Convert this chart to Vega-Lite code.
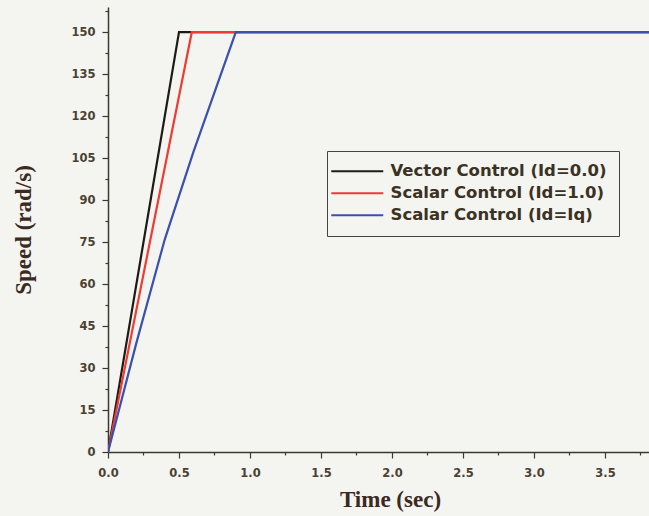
{
  "$schema": "https://vega.github.io/schema/vega-lite/v6.json",
  "width": 541,
  "height": 445,
  "autosize": {"type": "none"},
  "padding": {"left": 108, "top": 7, "right": 0, "bottom": 64},
  "background": "#f4f4f1",
  "config": {"view": {"stroke": null}},
  "data": {
    "values": [
      {"series": "Vector Control (Id=0.0)", "t": 0, "speed": 0},
      {"series": "Vector Control (Id=0.0)", "t": 0.5, "speed": 150},
      {"series": "Vector Control (Id=0.0)", "t": 3.85, "speed": 150},
      {"series": "Scalar Control (Id=1.0)", "t": 0, "speed": 0},
      {"series": "Scalar Control (Id=1.0)", "t": 0.59, "speed": 150},
      {"series": "Scalar Control (Id=1.0)", "t": 3.85, "speed": 150},
      {"series": "Scalar Control (Id=Iq)", "t": 0, "speed": 0},
      {"series": "Scalar Control (Id=Iq)", "t": 0.2, "speed": 39},
      {"series": "Scalar Control (Id=Iq)", "t": 0.4, "speed": 76},
      {"series": "Scalar Control (Id=Iq)", "t": 0.6, "speed": 107},
      {"series": "Scalar Control (Id=Iq)", "t": 0.9, "speed": 150},
      {"series": "Scalar Control (Id=Iq)", "t": 3.85, "speed": 150}
    ]
  },
  "mark": {"type": "line", "strokeWidth": 2.2, "clip": true},
  "encoding": {
    "x": {
      "field": "t",
      "type": "quantitative",
      "scale": {"domain": [0, 3.81], "nice": false, "zero": false},
      "axis": {
        "title": "Time (sec)",
        "titleX": 282,
        "values": [0, 0.25, 0.5, 0.75, 1, 1.25, 1.5, 1.75, 2, 2.25, 2.5, 2.75, 3, 3.25, 3.5, 3.75],
        "format": ".1f",
        "labelExpr": "round(datum.value*4)%2==0 ? datum.label : ''",
        "tickSize": {"condition": {"test": "round(datum.value*4)%2==0", "value": 6}, "value": 3},
        "grid": false,
        "domainColor": "#3a3a30",
        "domainWidth": 1.5,
        "tickColor": "#3a3a30",
        "tickWidth": 1.2,
        "labelFont": "DejaVu Sans",
        "labelFontWeight": "bold",
        "labelFontSize": 11.5,
        "labelColor": "#4a4232",
        "labelPadding": 9,
        "labelFlush": false,
        "titleFont": "Liberation Serif",
        "titleFontWeight": "bold",
        "titleFontSize": 23,
        "titleColor": "#3a2a22",
        "titlePadding": 10
      }
    },
    "y": {
      "field": "speed",
      "type": "quantitative",
      "scale": {"domain": [0, 159], "nice": false},
      "axis": {
        "title": "Speed (rad/s)",
        "values": [0, 7.5, 15, 22.5, 30, 37.5, 45, 52.5, 60, 67.5, 75, 82.5, 90, 97.5, 105, 112.5, 120, 127.5, 135, 142.5, 150, 157.5],
        "labelExpr": "round(datum.value*2)%30==0 ? format(datum.value, 'd') : ''",
        "tickSize": {"condition": {"test": "round(datum.value*2)%30==0", "value": 6}, "value": 3},
        "grid": false,
        "domainColor": "#3a3a30",
        "domainWidth": 1.5,
        "tickColor": "#3a3a30",
        "tickWidth": 1.2,
        "labelFont": "DejaVu Sans",
        "labelFontWeight": "bold",
        "labelFontSize": 11.5,
        "labelColor": "#4a4232",
        "labelPadding": 7,
        "titleFont": "Liberation Serif",
        "titleFontWeight": "bold",
        "titleFontSize": 23,
        "titleColor": "#3a2a22",
        "titlePadding": 35
      }
    },
    "color": {
      "field": "series",
      "type": "nominal",
      "sort": ["Vector Control (Id=0.0)", "Scalar Control (Id=1.0)", "Scalar Control (Id=Iq)"],
      "scale": {
        "domain": ["Vector Control (Id=0.0)", "Scalar Control (Id=1.0)", "Scalar Control (Id=Iq)"],
        "range": ["#1e1a16", "#f03a32", "#3a50ae"]
      },
      "legend": {
        "title": null,
        "orient": "none",
        "legendX": 219,
        "legendY": 144,
        "strokeColor": "#444444",
        "padding": 12,
        "symbolType": "M-2.667,0H6",
        "symbolSize": 144,
        "symbolStrokeWidth": 2,
        "labelFont": "DejaVu Sans",
        "labelFontWeight": "bold",
        "labelFontSize": 16.5,
        "labelColor": "#3a3222",
        "labelOffset": 35,
        "rowPadding": 5,
        "labelLimit": 400
      }
    }
  }
}
